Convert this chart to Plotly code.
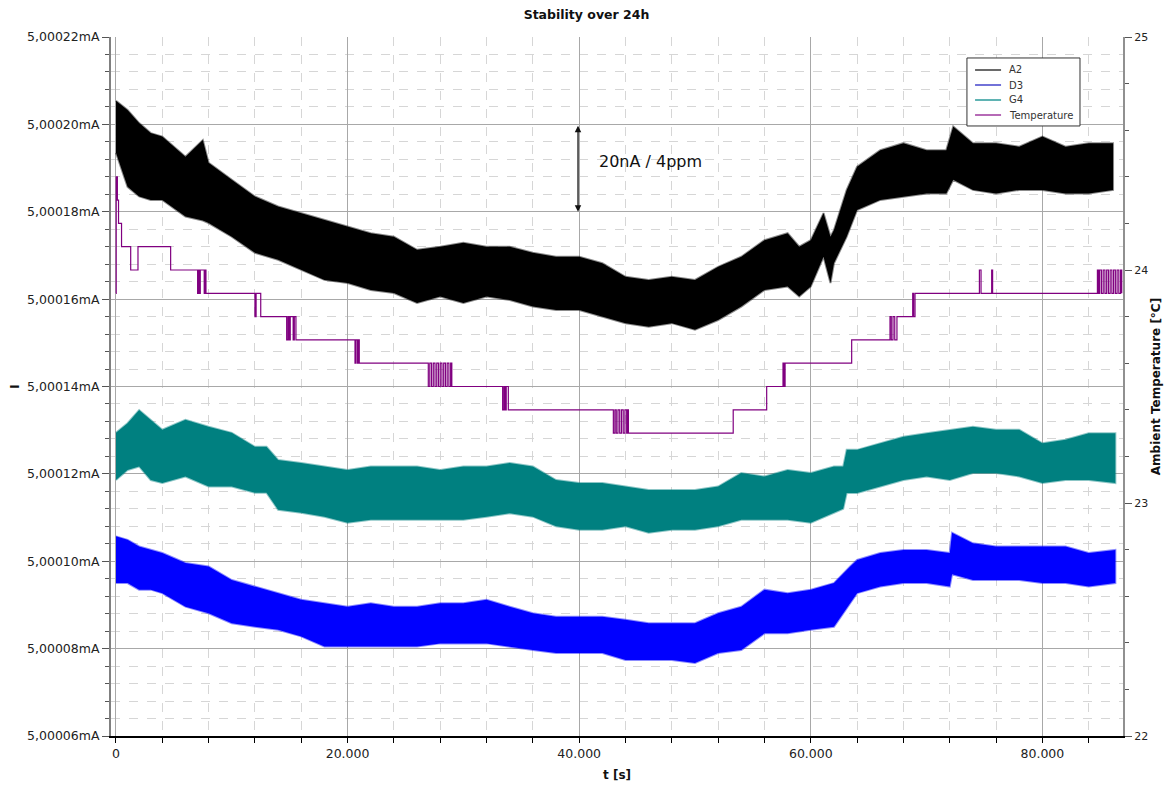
import plotly.graph_objects as go

# ---------------- data ----------------
# time in seconds, currents as nA above 5 mA (5,00020mA -> 200 nA)
a2_t = [0, 1000, 2000, 3000, 4000, 6000, 7500, 8000, 10000, 12000, 14000, 16000, 18000,
        20000, 22000, 24000, 26000, 28000, 30000, 32000, 34000, 36000, 38000, 40000, 42000,
        44000, 46000, 48000, 50000, 52000, 54000, 56000, 58000, 59000, 60000, 61100, 61700,
        62000, 63100, 64000, 66000, 68000, 70000, 71700, 72300, 74000, 76000, 78000, 80000,
        82000, 84000, 86100]
a2_hi = [205.4, 203.3, 200.3, 198.0, 197.2, 192.6, 196.4, 191.2, 187.3, 183.5, 181.2, 179.7,
         178.1, 176.6, 175.1, 174.3, 171.3, 172.0, 172.9, 172.0, 172.0, 170.6, 169.7, 169.7,
         168.2, 165.1, 164.4, 165.1, 164.4, 167.4, 169.7, 173.5, 175.1, 172.0, 173.5, 179.7,
         174.3, 175.8, 185.0, 190.3, 194.1, 195.7, 194.1, 194.1, 199.5, 195.7, 195.7, 194.9,
         197.2, 194.9, 195.7, 195.7]
a2_lo = [193.5, 185.7, 183.5, 182.7, 182.7, 178.9, 178.0, 177.4, 174.3, 170.6, 169.0, 166.7,
         164.4, 163.7, 162.1, 161.4, 159.1, 160.6, 159.1, 160.6, 159.8, 158.3, 157.5, 157.5,
         156.0, 154.5, 153.7, 154.5, 153.0, 155.2, 158.3, 162.1, 162.9, 160.6, 162.9, 169.7,
         163.7, 168.2, 174.3, 180.4, 182.7, 183.5, 184.2, 184.2, 187.3, 185.0, 184.2, 185.0,
         185.0, 184.2, 184.2, 185.0]

g4_t = [0, 1000, 2000, 3000, 4000, 6000, 8000, 10000, 12000, 13000, 14000, 16000, 18000,
        20000, 22000, 24000, 26000, 28000, 30000, 32000, 34000, 36000, 38000, 40000, 42000,
        44000, 46000, 48000, 50000, 52000, 54000, 56000, 58000, 60000, 62000, 62800, 63100,
        64000, 66000, 68000, 70000, 72000, 74000, 76000, 78000, 80000, 82000, 84000, 86300]
g4_hi = [129.4, 131.6, 134.6, 132.4, 130.1, 132.4, 130.8, 129.4, 126.2, 126.2, 123.2, 122.5,
         121.7, 120.9, 121.7, 121.7, 121.7, 120.9, 121.7, 121.7, 122.5, 121.7, 118.6, 117.9,
         117.9, 117.1, 116.3, 116.3, 116.3, 117.1, 120.2, 119.4, 120.9, 120.2, 121.7, 121.7,
         125.5, 125.5, 127.0, 128.5, 129.3, 130.1, 130.8, 130.1, 130.1, 127.0, 127.8, 129.3,
         129.3]
g4_lo = [118.6, 120.9, 121.7, 118.6, 117.9, 119.4, 117.1, 117.1, 115.7, 115.7, 111.8, 111.1,
         110.2, 108.8, 109.5, 109.5, 109.5, 109.5, 109.5, 110.2, 111.0, 110.2, 108.0, 107.2,
         107.2, 108.0, 106.5, 107.2, 107.2, 108.0, 109.5, 109.5, 109.5, 108.8, 111.1, 112.0,
         115.6, 115.6, 117.1, 118.6, 119.4, 118.6, 120.2, 120.2, 119.4, 117.9, 118.6, 118.6,
         117.9]

d3_t = [0, 1000, 2000, 3000, 4000, 6000, 8000, 10000, 12000, 14000, 16000, 18000, 20000,
        22000, 24000, 26000, 28000, 30000, 32000, 34000, 36000, 38000, 40000, 42000, 44000,
        46000, 48000, 50000, 52000, 54000, 56000, 58000, 60000, 62000, 63400, 64000, 66000,
        68000, 70000, 72000, 72200, 74000, 76000, 78000, 80000, 82000, 84000, 86300]
d3_hi = [105.7, 104.9, 103.4, 102.6, 101.9, 99.6, 98.8, 95.7, 94.2, 92.7, 91.2, 90.4, 89.6,
         90.4, 89.6, 89.6, 90.4, 90.4, 91.2, 89.6, 88.1, 87.3, 87.3, 87.3, 86.6, 85.8, 85.8,
         85.8, 88.1, 89.6, 93.5, 92.7, 93.5, 95.0, 98.8, 100.3, 101.9, 102.6, 102.6, 101.9,
         106.5, 104.1, 103.4, 103.4, 103.4, 103.4, 101.9, 102.6]
d3_lo = [95.0, 95.0, 93.5, 93.5, 92.7, 89.6, 88.1, 85.8, 85.0, 84.3, 82.8, 80.5, 80.5, 80.5,
         80.5, 80.5, 81.2, 81.2, 81.2, 80.5, 79.7, 79.0, 79.0, 79.0, 77.4, 77.4, 77.4, 76.7,
         79.0, 79.7, 83.5, 83.5, 84.3, 85.0, 90.4, 92.7, 94.2, 95.0, 95.0, 94.2, 97.0, 95.7,
         95.7, 95.7, 95.0, 95.0, 94.2, 95.0]

temp_t = [0, 20, 120, 220, 480, 1270, 1900, 4720, 7050, 7130, 7200, 7280, 7620, 7700, 7770,
          12000, 12100, 12500, 14740, 14850, 14950, 15050, 15300, 15400, 15540, 20640, 20720,
          20850, 20930, 21010, 26970, 27100, 27250, 27400, 27550, 27700, 27850, 28000, 28150,
          28300, 28450, 28600, 28750, 28900, 29000, 33390, 33500, 33600, 33700, 33880, 42950,
          43080, 43200, 43350, 43500, 43650, 43800, 43950, 44100, 44200, 44250, 53300, 56190,
          57600, 57700, 57780, 63530, 66840, 66950, 67100, 67250, 67440, 68800, 68880, 69000,
          74560, 74700, 75620, 75700, 84750, 84850, 84950, 85100, 85250, 85400, 85550, 85700,
          85850, 86000, 86150, 86300, 86450, 86600, 86750, 86850]
temp_c = [23.9, 24.4, 24.3, 24.2, 24.1, 24.0, 24.1, 24.0, 23.9, 24.0, 23.9, 24.0, 23.9, 24.0, 23.9,
          23.8, 23.9, 23.8, 23.7, 23.8, 23.7, 23.8, 23.7, 23.8, 23.7, 23.6, 23.7,
          23.6, 23.7, 23.6, 23.5, 23.6, 23.5, 23.6, 23.5, 23.6, 23.5, 23.6, 23.5,
          23.6, 23.5, 23.6, 23.5, 23.6, 23.5, 23.4, 23.5, 23.4, 23.5, 23.4, 23.3,
          23.4, 23.3, 23.4, 23.3, 23.4, 23.3, 23.4, 23.3, 23.4, 23.3, 23.4, 23.5,
          23.6, 23.5, 23.6, 23.7, 23.8, 23.7, 23.8, 23.7, 23.8, 23.9, 23.8, 23.9,
          24.0, 23.9, 24.0, 23.9, 24.0, 23.9, 24.0, 23.9, 24.0, 23.9, 24.0, 23.9,
          24.0, 23.9, 24.0, 23.9, 24.0, 23.9, 24.0, 23.9]

series_names = ["A2", "D3", "G4", "Temperature"]
series_colors = ["#000000", "#0000ff", "#008080", "#800080"]
edge_colors = ["rgba(0,0,0,0.45)", "rgba(0,0,255,0.45)", "rgba(0,128,128,0.45)"]
legend_colors = ["#6a6a6a", "#7272d8", "#5fb3b3", "#b66ab6"]

BASE_MA = 5.0
NA_TO_MA = 1e-6


def to_ma(vals):
    return [BASE_MA + v * NA_TO_MA for v in vals]


fig = go.Figure()


def add_band(t, hi, lo, name, color, edge):
    xs = list(t) + list(t)[::-1]
    ys = to_ma(hi) + to_ma(lo)[::-1]
    fig.add_trace(go.Scatter(x=xs, y=ys, mode="lines", fill="toself", fillcolor=color, name=name,
                             line=dict(color=edge, width=2), showlegend=False,
                             hoverinfo="skip"))


add_band(a2_t, a2_hi, a2_lo, series_names[0], series_colors[0], edge_colors[0])
add_band(d3_t, d3_hi, d3_lo, series_names[1], series_colors[1], edge_colors[1])
add_band(g4_t, g4_hi, g4_lo, series_names[2], series_colors[2], edge_colors[2])

fig.add_trace(go.Scatter(x=temp_t, y=temp_c, mode="lines", name=series_names[3],
                         line=dict(color=series_colors[3], width=1.2, shape="hv"),
                         yaxis="y2", showlegend=False))

font_family = "DejaVu Sans"

# the page body has an 8px margin, so the figure is sized to fit inside the window
fig.update_layout(
    width=1157, height=774,
    margin=dict(l=103, r=42, t=29, b=46, autoexpand=False),
    paper_bgcolor="white", plot_bgcolor="white",
    separators=",.",
    font=dict(family=font_family, size=12, color="#222222"),
    title=dict(text="<b>Stability over 24h</b>", x=0.5, xanchor="center", y=0.991, yanchor="middle",
               font=dict(size=12.5, color="#111111")),
    showlegend=False,
    xaxis=dict(range=[-430, 86960], tick0=0, dtick=20000, tickformat=",d", automargin=False,
               showgrid=True, gridcolor="#a8a8a8", gridwidth=1,
               zeroline=False, showline=True, linecolor="#000000", linewidth=1.5,
               ticks="outside", ticklen=5, tickcolor="#000000",
               tickfont=dict(size=12.5, color="#222222"),
               minor=dict(dtick=4000, tick0=0, showgrid=True, gridcolor="#d6d6d6", griddash="dash",
                          ticks="outside", ticklen=5, tickcolor="#000000"),
               title=dict(text="<b>t [s]</b>", font=dict(size=12, color="#111111"), standoff=12)),
    yaxis=dict(range=[5.00006, 5.00022], tick0=5.00006, dtick=0.00002, tickformat=".5f",
               ticksuffix="mA", showgrid=True, gridcolor="#a8a8a8", gridwidth=1, automargin=False,
               zeroline=False, showline=True, linecolor="#808080", linewidth=2,
               ticks="outside", ticklen=7, tickcolor="#555555",
               tickfont=dict(size=12.5, color="#222222"),
               minor=dict(dtick=0.000004, tick0=5.00006, showgrid=True, gridcolor="#d6d6d6",
                          griddash="dash", ticks="outside", ticklen=4, tickcolor="#555555"),
               title=dict(text="<b>I</b>", font=dict(size=12, color="#111111"), standoff=8)),
    yaxis2=dict(range=[22, 25], tick0=22, dtick=1, overlaying="y", side="right", anchor="x",
                showgrid=False, zeroline=False, showline=True, linecolor="#909090", linewidth=2,
                automargin=False,
                ticks="outside", ticklen=7, tickcolor="#555555",
                tickfont=dict(size=11, color="#222222"),
                minor=dict(dtick=0.2, tick0=22, showgrid=False, ticks="outside", ticklen=4,
                           tickcolor="#555555"),
                title=dict(text="<b>Ambient Temperature [°C]</b>", font=dict(size=12, color="#111111"),
                           standoff=4)),
)

# compact legend box (upper right, inside the plot area)
fig.add_shape(type="rect", xref="paper", yref="paper", x0=0.8458, x1=0.9575, y0=0.8727, y1=0.9700,
              line=dict(color="#333333", width=1), fillcolor="white", layer="above")
row_y = [0.9528, 0.9313, 0.9099, 0.8884]
for name, col, yy in zip(series_names, legend_colors, row_y):
    fig.add_shape(type="line", xref="paper", yref="paper", x0=0.8538, x1=0.8795, y0=yy, y1=yy,
                  line=dict(color=col, width=2), layer="above")
    fig.add_annotation(x=0.8854, y=yy, xref="paper", yref="paper", text=name, showarrow=False,
                       xanchor="left", yanchor="middle", font=dict(size=10, color="#333333"))

# 20nA / 4ppm marker
fig.add_annotation(x=39900, y=BASE_MA + 180 * NA_TO_MA, ax=39900, ay=BASE_MA + 200 * NA_TO_MA,
                   xref="x", yref="y", axref="x", ayref="y", text="", showarrow=True,
                   arrowhead=2, startarrowhead=2, arrowside="end+start", arrowsize=1,
                   arrowwidth=1.3, arrowcolor="#111111")
fig.add_annotation(x=46200, y=BASE_MA + 191.4 * NA_TO_MA, xref="x", yref="y",
                   text="20nA / 4ppm", showarrow=False, font=dict(size=16, color="#111111"))

fig.write_html("out.html")
